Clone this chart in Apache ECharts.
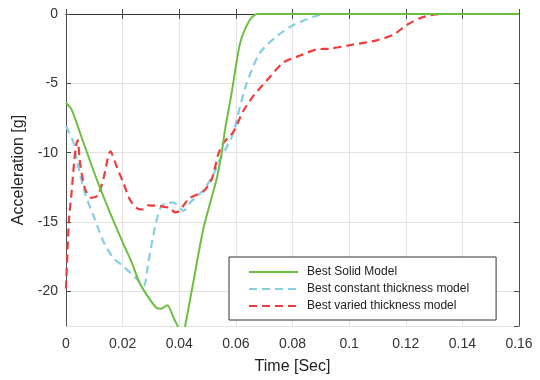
<!DOCTYPE html>
<html>
<head>
<meta charset="utf-8">
<script src="https://cdn.jsdelivr.net/npm/echarts@6/dist/echarts.min.js"></script>
<style>
  html, body { margin: 0; padding: 0; background: #fff; }
  #chart { width: 540px; height: 380px; }
</style>
</head>
<body>
<div id="chart"></div>
<script>
// series names
const seriesNames = ["Best Solid Model", "Best constant thickness model", "Best varied thickness model"];
const xTicks = [0, 0.02, 0.04, 0.06, 0.08, 0.1, 0.12, 0.14, 0.16];

// [time, acceleration]
const solidData = [
  [0, -6.4], [0.002, -6.9], [0.005, -8.6], [0.0108, -11.9], [0.0155, -14.3],
  [0.0203, -16.6], [0.023, -17.8], [0.026, -19.4], [0.029, -20.4], [0.032, -21.2],
  [0.0335, -21.25], [0.0358, -21.0], [0.038, -21.9], [0.0405, -22.9], [0.0415, -23.0],
  [0.042, -22.6], [0.045, -19.3], [0.0485, -15.5], [0.0532, -11.9], [0.055, -10.0],
  [0.0562, -8.3], [0.0585, -5.7], [0.0615, -2.1], [0.065, -0.4], [0.0675, 0],
  [0.07, 0], [0.16, 0]
];
const constData = [
  [0, -8.1], [0.0027, -9.3], [0.0039, -10.6], [0.0068, -13.0], [0.0098, -14.6],
  [0.0132, -16.4], [0.0167, -17.6], [0.0203, -18.2], [0.025, -19.1],
  [0.0275, -19.6], [0.029, -18.0], [0.0314, -15.4], [0.0335, -13.9], [0.036, -13.6],
  [0.038, -13.6], [0.0415, -14.2], [0.0438, -13.6], [0.0485, -12.7], [0.052, -11.6],
  [0.0544, -10.5], [0.0568, -9.6], [0.0591, -8.6], [0.0603, -7.6], [0.0638, -5.0],
  [0.0685, -2.8], [0.0744, -1.6], [0.0803, -0.8], [0.0874, -0.2], [0.092, 0],
  [0.095, 0], [0.16, 0]
];
const variedData = [
  [0, -19.8], [0.001, -15], [0.002, -12.8], [0.0033, -9.8], [0.0041, -9.1],
  [0.005, -10.8], [0.0067, -12.6], [0.0088, -13.25], [0.0112, -13.1], [0.0132, -11.9],
  [0.0157, -9.9], [0.0179, -11.0], [0.0203, -12.2], [0.0226, -13.4], [0.025, -14.0],
  [0.027, -14.1], [0.029, -13.8], [0.0332, -13.85], [0.0367, -14.0], [0.0385, -14.3],
  [0.040, -14.2], [0.0435, -13.3], [0.0485, -12.8], [0.0515, -11.9], [0.0538, -10.1],
  [0.0556, -9.3], [0.0591, -8.5], [0.0626, -7.0], [0.0662, -5.9], [0.0709, -4.8],
  [0.0768, -3.5], [0.0827, -3.0], [0.0886, -2.55], [0.0933, -2.5], [0.1015, -2.2],
  [0.1097, -1.9], [0.1156, -1.5], [0.1203, -0.8], [0.125, -0.3], [0.1298, -0.05],
  [0.133, 0], [0.136, 0], [0.16, 0]
];

const chart = echarts.init(document.getElementById("chart"));
const font = "Liberation Sans, Arial, sans-serif";
const axisColor = "#4d4d4d";

chart.setOption({
  animation: false,
  textStyle: { fontFamily: font },
  grid: { left: 66, right: 21, top: 14, bottom: 53 },
  legend: {
    orient: "vertical",
    left: 229,
    top: 257,
    backgroundColor: "#fff",
    borderColor: "#333",
    borderWidth: 1,
    borderRadius: 0,
    padding: [9, 27, 8, 19],
    itemWidth: 49,
    itemHeight: 14,
    itemGap: 5,
    itemStyle: { opacity: 0 },
    textStyle: { fontSize: 12, color: "#222", fontFamily: font, padding: [0, 0, 0, 4] },
    data: seriesNames
  },
  xAxis: [
    {
      type: "value",
      min: 0,
      max: 0.16,
      interval: 0.02,
      name: "Time [Sec]",
      nameLocation: "middle",
      nameGap: 33,
      nameTextStyle: { fontSize: 16, color: "#222" },
      axisLine: { lineStyle: { color: axisColor, width: 1 } },
      axisTick: { inside: true, length: 5, lineStyle: { color: axisColor } },
      axisLabel: { fontSize: 14, color: "#333", margin: 11 },
      splitLine: { show: true, lineStyle: { color: "#e3e3e3" } }
    },
    {
      type: "value",
      position: "top",
      min: 0,
      max: 0.16,
      interval: 0.02,
      axisLine: { show: true, onZero: false, lineStyle: { color: "#333", width: 1 } },
      axisTick: { inside: true, length: 5, lineStyle: { color: axisColor } },
      axisLabel: { show: false },
      splitLine: { show: false }
    }
  ],
  yAxis: [
    {
      type: "value",
      min: -22.5,
      max: 0,
      splitNumber: 5,
      name: "Acceleration [g]",
      nameLocation: "middle",
      nameGap: 32,
      nameTextStyle: { fontSize: 16, color: "#222" },
      axisLine: { show: true, onZero: false, lineStyle: { color: axisColor, width: 1 } },
      axisTick: { show: true, inside: true, length: 5, lineStyle: { color: axisColor } },
      axisLabel: { fontSize: 14, color: "#333", margin: 8, showMinLabel: false },
      splitLine: { show: true, lineStyle: { color: "#e3e3e3" } }
    },
    {
      type: "value",
      position: "right",
      min: -22.5,
      max: 0,
      splitNumber: 5,
      axisLine: { show: true, onZero: false, lineStyle: { color: axisColor, width: 1 } },
      axisTick: { show: true, inside: true, length: 5, lineStyle: { color: axisColor } },
      axisLabel: { show: false },
      splitLine: { show: false }
    }
  ],
  series: [
    {
      name: seriesNames[0],
      type: "line",
      data: solidData,
      symbol: "none",
      smooth: 0.25,
      clip: true,
      z: 3,
      lineStyle: { color: "#6cbf3f", width: 2 },
      itemStyle: { color: "#6cbf3f" }
    },
    {
      name: seriesNames[1],
      type: "line",
      data: constData,
      symbol: "none",
      smooth: 0.25,
      clip: true,
      z: 2,
      lineStyle: { color: "#86cfe3", width: 2.2, type: [8, 5] },
      itemStyle: { color: "#86cfe3" }
    },
    {
      name: seriesNames[2],
      type: "line",
      data: variedData,
      symbol: "none",
      smooth: 0.25,
      clip: true,
      z: 2,
      lineStyle: { color: "#ef3b3b", width: 2.2, type: [8, 5] },
      itemStyle: { color: "#ef3b3b" }
    }
  ]
});
</script>
</body>
</html>
